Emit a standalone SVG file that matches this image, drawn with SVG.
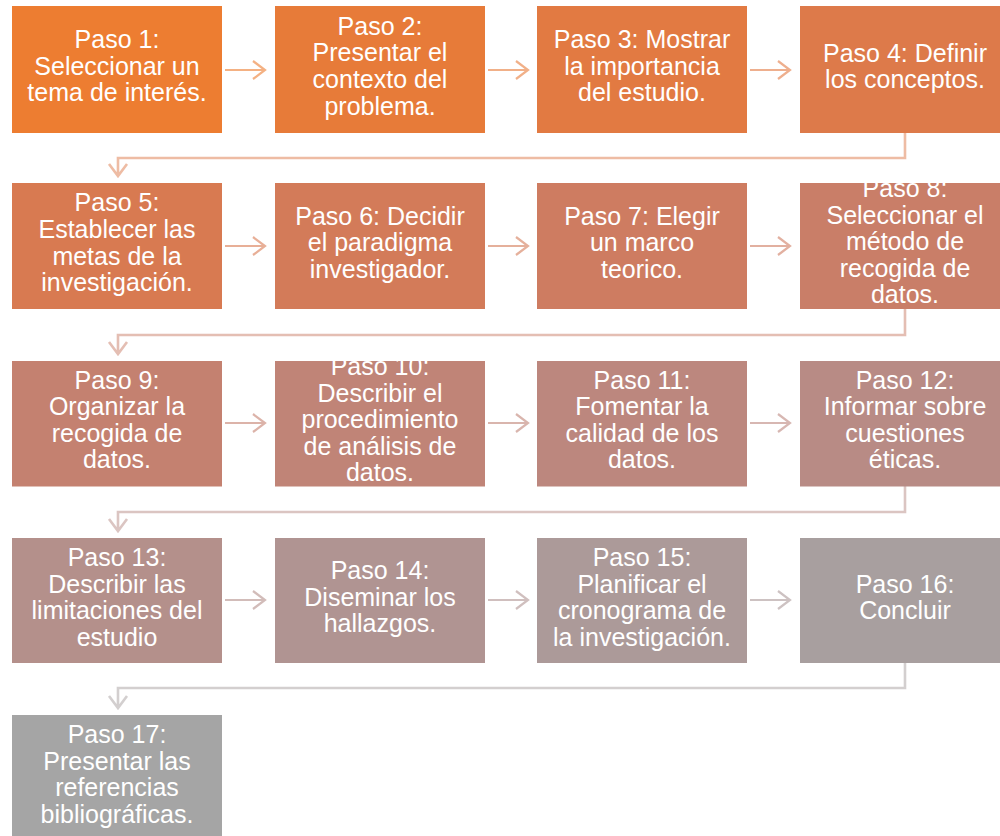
<svg xmlns="http://www.w3.org/2000/svg" width="1000" height="836" viewBox="0 0 1000 836">
<defs>
<style>
.t{font-family:"Liberation Sans",Arial,sans-serif;font-size:25px;fill:#ffffff;text-anchor:middle}
.c{fill:none;stroke-width:2.2;stroke-linejoin:miter;stroke-opacity:0.6}
.r{fill:none;stroke-width:2.6;stroke-opacity:0.5}
</style>
<clipPath id="r1"><rect x="0" y="6" width="1000" height="127"/></clipPath>
<clipPath id="r2"><rect x="0" y="183" width="1000" height="126"/></clipPath>
<clipPath id="r3"><rect x="0" y="361" width="1000" height="125.5"/></clipPath>
<clipPath id="r4"><rect x="0" y="538" width="1000" height="125"/></clipPath>
<clipPath id="r5"><rect x="0" y="715" width="1000" height="121"/></clipPath>
</defs>
<rect width="1000" height="836" fill="#ffffff"/>

<g id="connectors">
<path class="c" stroke="#ED7D31" d="M225,70 H265 M253,61 L265,70 L253,79"/>
<path class="c" stroke="#E77B39" d="M488,70 H528 M516,61 L528,70 L516,79"/>
<path class="c" stroke="#E27A42" d="M750,70 H790 M778,61 L790,70 L778,79"/>
<path class="r" stroke="#DD7A4A" d="M905,133 V158 H118 V176 M109,164 L118,176 L127,164"/>
<path class="c" stroke="#D87A51" d="M225,246 H265 M253,237 L265,246 L253,255"/>
<path class="c" stroke="#D37B59" d="M488,246 H528 M516,237 L528,246 L516,255"/>
<path class="c" stroke="#CE7C61" d="M750,246 H790 M778,237 L790,246 L778,255"/>
<path class="r" stroke="#C97E68" d="M905,309 V335 H118 V354 M109,342 L118,354 L127,342"/>
<path class="c" stroke="#C48170" d="M225,423 H265 M253,414 L265,423 L253,432"/>
<path class="c" stroke="#C08477" d="M488,423 H528 M516,414 L528,423 L516,432"/>
<path class="c" stroke="#BC877E" d="M750,423 H790 M778,414 L790,423 L778,432"/>
<path class="r" stroke="#B88B85" d="M905,486 V512 H118 V531 M109,519 L118,531 L127,519"/>
<path class="c" stroke="#B4908B" d="M225,600 H265 M253,591 L265,600 L253,609"/>
<path class="c" stroke="#B09492" d="M488,600 H528 M516,591 L528,600 L516,609"/>
<path class="c" stroke="#AC9A99" d="M750,600 H790 M778,591 L790,600 L778,609"/>
<path class="r" stroke="#A89F9F" d="M905,663 V688 H118 V708 M109,696 L118,708 L127,696"/>
</g>

<g id="step1"><rect x="12" y="6" width="210" height="127" fill="#ED7D31"/>
<g clip-path="url(#r1)"><text class="t" x="117" y="48">Paso 1:</text><text class="t" x="117" y="74.5">Seleccionar un</text><text class="t" x="117" y="101">tema de interés.</text></g></g>
<g id="step2"><rect x="275" y="6" width="210" height="127" fill="#E77B39"/>
<g clip-path="url(#r1)"><text class="t" x="380" y="34.5">Paso 2:</text><text class="t" x="380" y="61">Presentar el</text><text class="t" x="380" y="88">contexto del</text><text class="t" x="380" y="114.5">problema.</text></g></g>
<g id="step3"><rect x="537" y="6" width="210" height="127" fill="#E27A42"/>
<g clip-path="url(#r1)"><text class="t" x="642" y="48">Paso 3: Mostrar</text><text class="t" x="642" y="74.5">la importancia</text><text class="t" x="642" y="101">del estudio.</text></g></g>
<g id="step4"><rect x="800" y="6" width="210" height="127" fill="#DD7A4A"/>
<g clip-path="url(#r1)"><text class="t" x="905" y="61.5">Paso 4: Definir</text><text class="t" x="905" y="88">los conceptos.</text></g></g>

<g id="step5"><rect x="12" y="183" width="210" height="126" fill="#D87A51"/>
<g clip-path="url(#r2)"><text class="t" x="117" y="211">Paso 5:</text><text class="t" x="117" y="237.5">Establecer las</text><text class="t" x="117" y="264.5">metas de la</text><text class="t" x="117" y="291">investigación.</text></g></g>
<g id="step6"><rect x="275" y="183" width="210" height="126" fill="#D37B59"/>
<g clip-path="url(#r2)"><text class="t" x="380" y="224.5">Paso 6: Decidir</text><text class="t" x="380" y="251">el paradigma</text><text class="t" x="380" y="277.5">investigador.</text></g></g>
<g id="step7"><rect x="537" y="183" width="210" height="126" fill="#CE7C61"/>
<g clip-path="url(#r2)"><text class="t" x="642" y="224.5">Paso 7: Elegir</text><text class="t" x="642" y="251">un marco</text><text class="t" x="642" y="277.5">teorico.</text></g></g>
<g id="step8"><rect x="800" y="183" width="210" height="126" fill="#C97E68"/>
<g clip-path="url(#r2)"><text class="t" x="905" y="197">Paso 8:</text><text class="t" x="905" y="223.5">Seleccionar el</text><text class="t" x="905" y="250">método de</text><text class="t" x="905" y="276.5">recogida de</text><text class="t" x="905" y="303">datos.</text></g></g>

<g id="step9"><rect x="12" y="361" width="210" height="125.5" fill="#C48170"/>
<g clip-path="url(#r3)"><text class="t" x="117" y="388.5">Paso 9:</text><text class="t" x="117" y="415">Organizar la</text><text class="t" x="117" y="441.5">recogida de</text><text class="t" x="117" y="468">datos.</text></g></g>
<g id="step10"><rect x="275" y="361" width="210" height="125.5" fill="#C08477"/>
<g clip-path="url(#r3)"><text class="t" x="380" y="375">Paso 10:</text><text class="t" x="380" y="401.5">Describir el</text><text class="t" x="380" y="428">procedimiento</text><text class="t" x="380" y="454.5">de análisis de</text><text class="t" x="380" y="481">datos.</text></g></g>
<g id="step11"><rect x="537" y="361" width="210" height="125.5" fill="#BC877E"/>
<g clip-path="url(#r3)"><text class="t" x="642" y="388.5">Paso 11:</text><text class="t" x="642" y="415">Fomentar la</text><text class="t" x="642" y="441.5">calidad de los</text><text class="t" x="642" y="468">datos.</text></g></g>
<g id="step12"><rect x="800" y="361" width="210" height="125.5" fill="#B88B85"/>
<g clip-path="url(#r3)"><text class="t" x="905" y="388.5">Paso 12:</text><text class="t" x="905" y="415">Informar sobre</text><text class="t" x="905" y="441.5">cuestiones</text><text class="t" x="905" y="468">éticas.</text></g></g>

<g id="step13"><rect x="12" y="538" width="210" height="125" fill="#B4908B"/>
<g clip-path="url(#r4)"><text class="t" x="117" y="566">Paso 13:</text><text class="t" x="117" y="592.5">Describir las</text><text class="t" x="117" y="619">limitaciones del</text><text class="t" x="117" y="645.5">estudio</text></g></g>
<g id="step14"><rect x="275" y="538" width="210" height="125" fill="#B09492"/>
<g clip-path="url(#r4)"><text class="t" x="380" y="579">Paso 14:</text><text class="t" x="380" y="605.5">Diseminar los</text><text class="t" x="380" y="632">hallazgos.</text></g></g>
<g id="step15"><rect x="537" y="538" width="210" height="125" fill="#AC9A99"/>
<g clip-path="url(#r4)"><text class="t" x="642" y="566">Paso 15:</text><text class="t" x="642" y="592.5">Planificar el</text><text class="t" x="642" y="619">cronograma de</text><text class="t" x="642" y="645.5">la investigación.</text></g></g>
<g id="step16"><rect x="800" y="538" width="210" height="125" fill="#A89F9F"/>
<g clip-path="url(#r4)"><text class="t" x="905" y="592.5">Paso 16:</text><text class="t" x="905" y="619">Concluir</text></g></g>

<g id="step17"><rect x="12" y="715" width="210" height="126" fill="#A5A5A5"/>
<g clip-path="url(#r5)"><text class="t" x="117" y="743">Paso 17:</text><text class="t" x="117" y="769.5">Presentar las</text><text class="t" x="117" y="796">referencias</text><text class="t" x="117" y="822.5">bibliográficas.</text></g></g>
</svg>
